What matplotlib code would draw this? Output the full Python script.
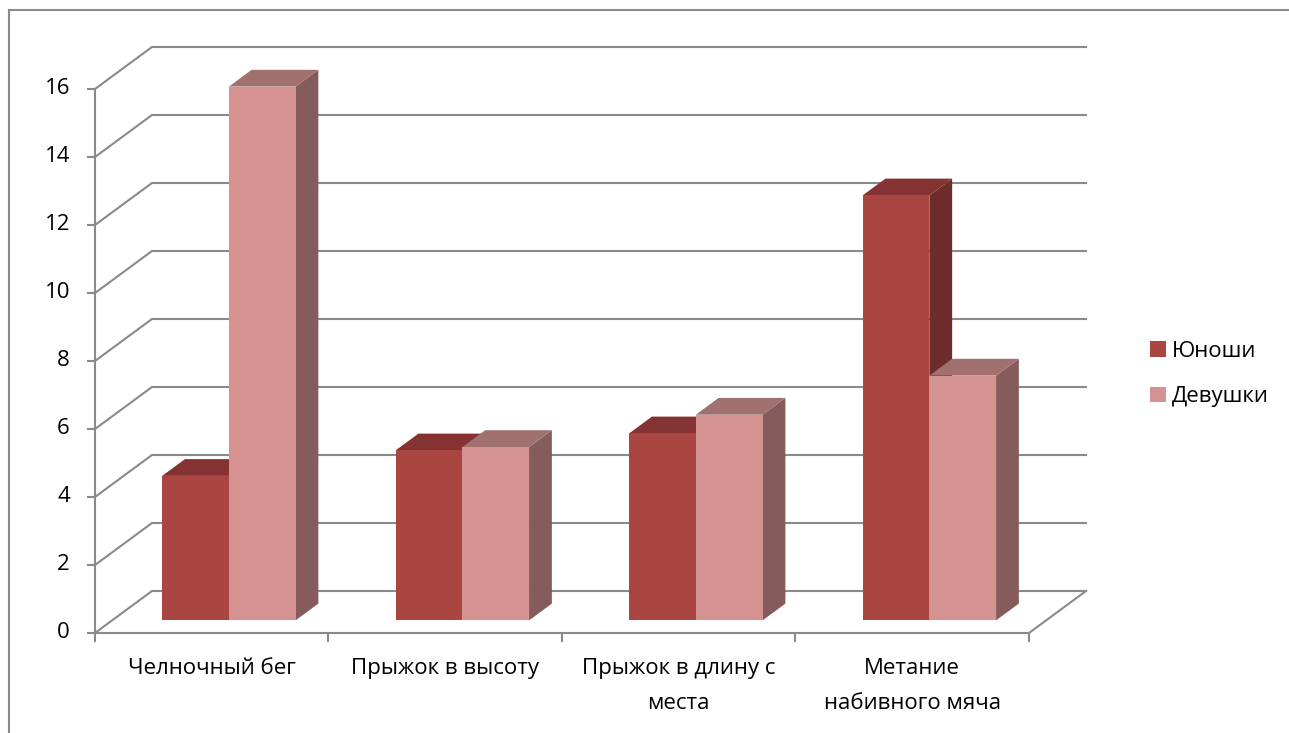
import matplotlib.pyplot as plt
from matplotlib.patches import Polygon, Patch, Rectangle

categories = ['Челночный бег', 'Прыжок в высоту', 'Прыжок в длину с\nместа', 'Метание\nнабивного мяча']
series = ['Юноши', 'Девушки']
boys = [4.25, 5.0, 5.5, 12.5]
girls = [15.7, 5.1, 6.05, 7.2]
yticks = list(range(0, 17, 2))

front_colors = ['#AA4642', '#D49291']
top_colors = ['#843332', '#A17170']
side_colors = ['#6E2C2A', '#855C5B']
grid_color = '#8a8a8a'

plt.rcParams['font.family'] = ['Open Sans', 'DejaVu Sans']

W, H = 1289, 733
fig = plt.figure(figsize=(W / 100, H / 100), dpi=100)
ax = fig.add_axes([0, 0, 1, 1])

# front plane: x 0..4 categories, y 0..16 values
x0px, x4px = 95, 1029
y0px, y16px = 633, 89
sx = (x4px - x0px) / 4
sy = (y0px - y16px) / 16
ax.set_xlim(-x0px / sx, (W - x0px) / sx)
ax.set_ylim((y0px - H) / sy, y0px / sy)
ax.axis('off')

# depth offset of the back wall
DX = 57 / sx
DY = 42 / sy


def P(x, y, d):
    return (x + d * DX, y + d * DY)


# back wall gridlines with their diagonal on the side wall
for v in yticks:
    ax.plot([0, DX, 4 + DX], [v, v + DY, v + DY], color=grid_color, lw=1.5, zorder=1)
    ax.plot([-7 / sx, 0], [v, v], color=grid_color, lw=1.5, zorder=1)
    ax.text(-25 / sx, v, str(v), ha='right', va='center', fontsize=16, color='black')

# floor edge and axis lines
ax.plot([0, 4, 4 + DX], [0, 0, DY], color=grid_color, lw=1.5, zorder=1)
ax.plot([0, 0], [0, 16], color=grid_color, lw=1.5, zorder=1)
for i in range(5):
    ax.plot([i, i], [0, -8 / sy], color=grid_color, lw=1.5, zorder=1)

for i, lab in enumerate(categories):
    ax.text(i + 0.5, -25 / sy, lab, ha='center', va='top', fontsize=16,
            linespacing=1.85, color='black')

# 3d columns
w = 1 / 3.5
gap = 0.75 * w
d0, d1 = 0.3, 0.7
z = 2
for i in range(len(categories)):
    for j, vals in enumerate([boys, girls]):
        v = vals[i]
        xl = i + gap + j * w
        xr = xl + w
        side = [P(xr, 0, d0), P(xr, 0, d1), P(xr, v, d1), P(xr, v, d0)]
        top = [P(xl, v, d0), P(xr, v, d0), P(xr, v, d1), P(xl, v, d1)]
        front = [P(xl, 0, d0), P(xr, 0, d0), P(xr, v, d0), P(xl, v, d0)]
        ax.add_patch(Polygon(side, closed=True, fc=side_colors[j], ec='none', zorder=z))
        ax.add_patch(Polygon(top, closed=True, fc=top_colors[j], ec='none', zorder=z))
        ax.add_patch(Polygon(front, closed=True, fc=front_colors[j], ec='none', zorder=z))
        z += 1

handles = [Patch(fc=front_colors[k], ec='none', label=series[k]) for k in range(2)]
fig.legend(handles=handles, loc='center left', bbox_to_anchor=(1130 / W, 1 - 374 / H),
           frameon=False, fontsize=16, handlelength=0.7, handleheight=0.7,
           handletextpad=0.3, labelspacing=1.1)

# chart area border
fig.patches.append(Rectangle((9 / W, -0.1), 1.2, 1.1 - 10 / H, transform=fig.transFigure,
                             fill=False, ec='#8a8a8a', lw=1.5))

fig.savefig('out.png', dpi=100)
